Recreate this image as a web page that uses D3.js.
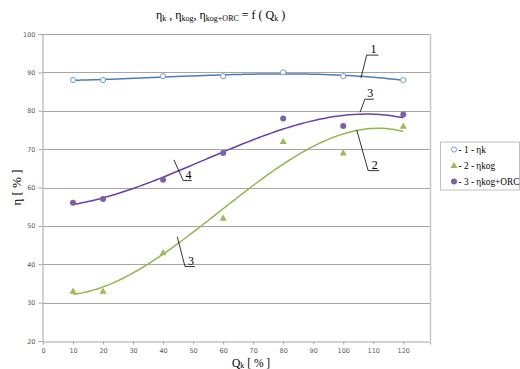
<!DOCTYPE html>
<html>
<head>
<meta charset="utf-8">
<script src="https://cdn.jsdelivr.net/npm/d3@7"></script>
<style>
  body { margin: 0; background: #fff; }
  svg { display: block; }
  .tick text { font-family: "DejaVu Sans", sans-serif; font-size: 6.5px; fill: #595959; }
  .serif { font-family: "Liberation Serif", "Times New Roman", serif; fill: #000; }
</style>
</head>
<body>
<svg id="chart" width="520" height="369"></svg>
<script>
// values
const loads = [10, 20, 40, 60, 80, 100, 120];           // Qk [%]
const etaK = [88, 88, 89, 89, 90, 89, 88];               // 1 - ηk
const etaKog = [33, 33, 43, 52, 72, 69, 76];             // 2 - ηkog
const etaKogOrc = [56, 57, 62, 69, 78, 76, 79];          // 3 - ηkog+ORC

const xTicks = [0, 10, 20, 30, 40, 50, 60, 70, 80, 90, 100, 110, 120];
const yTicks = [20, 30, 40, 50, 60, 70, 80, 90, 100];

// hand-drawn callouts: [label, anchor x, anchor y, elbow x, elbow y, underline end x] in data units
const callouts = [
  ['1', 105.9, 88.5, 107.8, 94.5, 111.7],
  ['3', 105.6, 79.6, 107.2, 83.0, 110.2],
  ['2', 104.5, 75.0, 108.3, 64.4, 112.0],
  ['4', 43.6, 67.2, 46.7, 61.8, 49.5],
  ['3', 44.7, 47.2, 47.3, 39.4, 50.6]
];

const series = [
  { name: '1', label: 'ηk', values: etaK, line: '#4a7ebb', marker: 'circle' },
  { name: '2', label: 'ηkog', values: etaKog, line: '#8fb84e', marker: 'triangle' },
  { name: '3', label: 'ηkog+ORC', values: etaKogOrc, line: '#6b3fa8', marker: 'dot' }
];

const margin = { top: 34, left: 43, right: 90, bottom: 28 };
const width = 520 - margin.left - margin.right;
const height = 369 - margin.top - margin.bottom;

const x = d3.scaleLinear().domain([0, 128.9]).range([margin.left, margin.left + width]);
const y = d3.scaleLinear().domain([20, 100]).range([margin.top + height, margin.top]);

const svg = d3.select('#chart');
const gridColor = '#a6a6a6';

// grid
svg.append('g')
  .selectAll('line')
  .data(yTicks.slice(1))
  .join('line')
    .attr('x1', x(0))
    .attr('x2', x.range()[1])
    .attr('y1', d => Math.round(y(d)) + 0.5)
    .attr('y2', d => Math.round(y(d)) + 0.5)
    .attr('stroke', gridColor);

// right border
svg.append('line')
  .attr('x1', x.range()[1] + 0.5).attr('x2', x.range()[1] + 0.5)
  .attr('y1', y(100)).attr('y2', y(20))
  .attr('stroke', '#c8c8c8').attr('stroke-width', 1.5);

// axes
const yAxis = d3.axisLeft(y).tickValues(yTicks).tickSize(4).tickPadding(3);
const xAxis = d3.axisBottom(x).tickValues(xTicks).tickSize(3).tickPadding(4);

svg.append('g')
    .attr('transform', `translate(${x(0) - 0.5},0)`)
    .call(yAxis)
    .call(g => g.selectAll('.domain, line').attr('stroke', gridColor));

svg.append('g')
    .attr('transform', `translate(0,${Math.round(y(20)) + 0.5})`)
    .call(xAxis)
    .call(g => g.selectAll('.domain, line').attr('stroke', gridColor));

// polynomial trendline (least squares, like the spreadsheet's order-3 trendline)
function polyFit(xs, ys, order) {
  const n = order + 1;
  const A = d3.range(n).map(() => new Array(n + 1).fill(0));
  xs.forEach((xv, k) => {
    for (let i = 0; i < n; i++) {
      for (let j = 0; j < n; j++) A[i][j] += Math.pow(xv, i + j);
      A[i][n] += ys[k] * Math.pow(xv, i);
    }
  });
  for (let i = 0; i < n; i++) {
    let p = i;
    for (let r = i + 1; r < n; r++) if (Math.abs(A[r][i]) > Math.abs(A[p][i])) p = r;
    [A[i], A[p]] = [A[p], A[i]];
    for (let r = 0; r < n; r++) {
      if (r === i) continue;
      const f = A[r][i] / A[i][i];
      for (let c = i; c <= n; c++) A[r][c] -= f * A[i][c];
    }
  }
  const coef = A.map((row, i) => row[n] / row[i]);
  return v => coef.reduce((s, c, i) => s + c * Math.pow(v, i), 0);
}

const line = d3.line().x(d => x(d[0])).y(d => y(d[1]));
const xs = d3.range(loads[0], loads[loads.length - 1] + 0.5, 1);

series.forEach(s => {
  const f = polyFit(loads, s.values, 3);
  svg.append('path')
    .attr('d', line(xs.map(v => [v, f(v)])))
    .attr('fill', 'none')
    .attr('stroke', s.line)
    .attr('stroke-width', 1.5);
});

// markers
function drawMarker(g, type, cx, cy) {
  if (type === 'circle') {
    g.append('circle').attr('cx', cx).attr('cy', cy).attr('r', 2.6)
      .attr('fill', '#fff').attr('stroke', '#6f9fd0').attr('stroke-width', 1);
  } else if (type === 'triangle') {
    g.append('path')
      .attr('d', d3.symbol(d3.symbolTriangle, 22)())
      .attr('transform', `translate(${cx},${cy + 0.5})`)
      .attr('fill', '#9bbb59');
  } else {
    g.append('circle').attr('cx', cx).attr('cy', cy).attr('r', 3)
      .attr('fill', '#7f60a8');
  }
}

series.forEach(s => {
  const g = svg.append('g');
  loads.forEach((v, i) => drawMarker(g, s.marker, x(v), y(s.values[i])));
});

// callouts
const cg = svg.append('g');
callouts.forEach(c => {
  const [lbl, ax, ay, ex, ey, endX] = c;
  cg.append('polyline')
    .attr('points', [[x(ax), y(ay)], [x(ex), y(ey)], [x(endX), y(ey)]].map(p => p.join(',')).join(' '))
    .attr('fill', 'none')
    .attr('stroke', '#000')
    .attr('stroke-width', 0.8);
  cg.append('text')
    .attr('class', 'serif')
    .attr('x', (x(ex) + x(endX)) / 2 + 1)
    .attr('y', y(ey) - 2)
    .attr('text-anchor', 'middle')
    .attr('font-size', 12)
    .text(lbl);
});

// title
const title = svg.append('text')
  .attr('class', 'serif')
  .attr('x', 156)
  .attr('y', 19)
  .attr('font-size', 12);
title.append('tspan').text('η');
title.append('tspan').attr('font-size', 8).attr('dy', 2).text('k');
title.append('tspan').attr('dy', -2).text(' , η');
title.append('tspan').attr('font-size', 8).attr('dy', 2).text('kog');
title.append('tspan').attr('dy', -2).text(', η');
title.append('tspan').attr('font-size', 8).attr('dy', 2).text('kog+ORC');
title.append('tspan').attr('dy', -2).text(' = f ( Q');
title.append('tspan').attr('font-size', 8).attr('dy', 2).text('k');
title.append('tspan').attr('dy', -2).text(' )');

// axis titles
svg.append('text')
  .attr('class', 'serif')
  .attr('transform', `translate(21,${(y(100) + y(20)) / 2}) rotate(-90)`)
  .attr('text-anchor', 'middle')
  .attr('font-size', 13)
  .text('η [ % ]');

const xt = svg.append('text')
  .attr('class', 'serif')
  .attr('x', 232)
  .attr('y', 366.5)
  .attr('font-size', 11.5);
xt.append('tspan').text('Q');
xt.append('tspan').attr('font-size', 8).attr('dy', 1.5).text('k');
xt.append('tspan').attr('dy', -1.5).text(' [ % ]');

// legend
const legend = svg.append('g').attr('transform', 'translate(440,141.5)');
legend.append('rect')
  .attr('x', 0.5).attr('y', 0.5)
  .attr('width', 79).attr('height', 48)
  .attr('fill', '#fff').attr('stroke', '#bfbfbf');
series.forEach((s, i) => {
  const row = legend.append('g').attr('transform', `translate(0,${8 + i * 16})`);
  drawMarker(row, s.marker, 14, 0);
  row.append('text')
    .attr('class', 'serif')
    .attr('x', 18.5)
    .attr('y', 3.5)
    .attr('font-size', 9.3)
    .text(`- ${s.name} - ${s.label}`);
});
</script>
</body>
</html>
